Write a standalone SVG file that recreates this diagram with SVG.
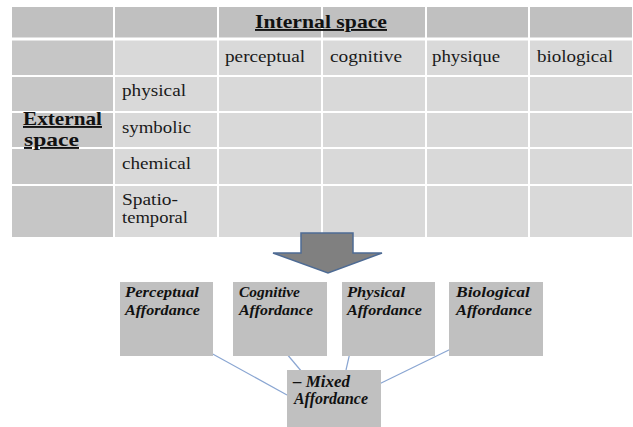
<svg xmlns="http://www.w3.org/2000/svg" width="633" height="427" viewBox="0 0 633 427">
<style>
text{font-family:"Liberation Serif","Times New Roman","DejaVu Serif",serif}
.cell{font-size:16px;fill:#1a1a1a}
.hdr{font-size:19px;font-weight:bold;fill:#111;text-decoration:underline}
.grid{stroke:#ffffff;stroke-width:2}
.box{fill:#c0c0c0}
.lbl{font-size:14px;font-weight:bold;font-style:italic;fill:#111}
.lblm{font-size:16px;font-weight:bold;font-style:italic;fill:#111}
.conn{stroke:#8aa6d2;stroke-width:1.2;fill:none}
</style>
<rect x="0" y="0" width="633" height="427" fill="#ffffff"/>
<g id="table">
<rect x="12" y="7" width="620" height="32" fill="#c0c0c0"/>
<rect x="12" y="39" width="102" height="198" fill="#c6c6c6"/>
<rect x="114" y="39" width="518" height="198" fill="#d9d9d9"/>
<g class="grid">
<line x1="12" y1="39" x2="632" y2="39" stroke-width="3"/>
<line x1="12" y1="76" x2="632" y2="76"/>
<line x1="12" y1="112" x2="632" y2="112"/>
<line x1="12" y1="148" x2="632" y2="148"/>
<line x1="12" y1="185" x2="632" y2="185"/>
<line x1="114" y1="7" x2="114" y2="237"/>
<line x1="218" y1="7" x2="218" y2="237"/>
<line x1="322" y1="7" x2="322" y2="237"/>
<line x1="426" y1="7" x2="426" y2="237"/>
<line x1="529" y1="7" x2="529" y2="237"/>
</g>
<text class="hdr" x="255" y="28" textLength="132" lengthAdjust="spacingAndGlyphs">Internal space</text>
<text class="hdr" x="23" y="125" textLength="79" lengthAdjust="spacingAndGlyphs">External</text>
<text class="hdr" x="24" y="146" textLength="55" lengthAdjust="spacingAndGlyphs"> space</text>
<text class="cell" x="225" y="62" textLength="80" lengthAdjust="spacingAndGlyphs">perceptual</text>
<text class="cell" x="330" y="62" textLength="72" lengthAdjust="spacingAndGlyphs">cognitive</text>
<text class="cell" x="432" y="62" textLength="68" lengthAdjust="spacingAndGlyphs">physique</text>
<text class="cell" x="537" y="62" textLength="76" lengthAdjust="spacingAndGlyphs">biological</text>
<text class="cell" x="122" y="96" textLength="64" lengthAdjust="spacingAndGlyphs">physical</text>
<text class="cell" x="122" y="133" textLength="69" lengthAdjust="spacingAndGlyphs">symbolic</text>
<text class="cell" x="122" y="169" textLength="69" lengthAdjust="spacingAndGlyphs">chemical</text>
<text class="cell" x="122" y="205" textLength="56" lengthAdjust="spacingAndGlyphs">Spatio-</text>
<text class="cell" x="122" y="223" textLength="66" lengthAdjust="spacingAndGlyphs">temporal</text>
</g>
<g id="arrow">
<polygon points="301,233 353,233 353,253 382,253 328,273 273,253 301,253" fill="#808080" stroke="#4e6b94" stroke-width="1.5"/>
</g>
<g id="connectors">
<line class="conn" x1="200" y1="347" x2="287" y2="395"/>
<line class="conn" x1="281" y1="347" x2="302" y2="372"/>
<line class="conn" x1="351" y1="348" x2="346" y2="370"/>
<line class="conn" x1="455" y1="347" x2="373" y2="387"/>
</g>
<g id="perceptual">
<rect class="box" x="120" y="282" width="93" height="74"/>
<text class="lbl" x="125" y="297" textLength="74" lengthAdjust="spacingAndGlyphs">Perceptual</text>
<text class="lbl" x="125" y="315" textLength="75" lengthAdjust="spacingAndGlyphs">Affordance</text>
</g>
<g id="cognitive">
<rect class="box" x="233" y="282" width="94" height="74"/>
<text class="lbl" x="239" y="297" textLength="61" lengthAdjust="spacingAndGlyphs">Cognitive</text>
<text class="lbl" x="239" y="315" textLength="74" lengthAdjust="spacingAndGlyphs">Affordance</text>
</g>
<g id="physical">
<rect class="box" x="342" y="282" width="93" height="74"/>
<text class="lbl" x="347" y="297" textLength="58" lengthAdjust="spacingAndGlyphs">Physical</text>
<text class="lbl" x="347" y="315" textLength="75" lengthAdjust="spacingAndGlyphs">Affordance</text>
</g>
<g id="biological">
<rect class="box" x="449" y="282" width="94" height="74"/>
<text class="lbl" x="456" y="297" textLength="74" lengthAdjust="spacingAndGlyphs">Biological</text>
<text class="lbl" x="456" y="315" textLength="76" lengthAdjust="spacingAndGlyphs">Affordance</text>
</g>
<g id="mixed">
<rect class="box" x="287" y="370" width="94" height="57"/>
<text class="lblm" x="293" y="387" textLength="57" lengthAdjust="spacingAndGlyphs">– Mixed</text>
<text class="lblm" x="294" y="404" textLength="74" lengthAdjust="spacingAndGlyphs">Affordance</text>
</g>
</svg>
